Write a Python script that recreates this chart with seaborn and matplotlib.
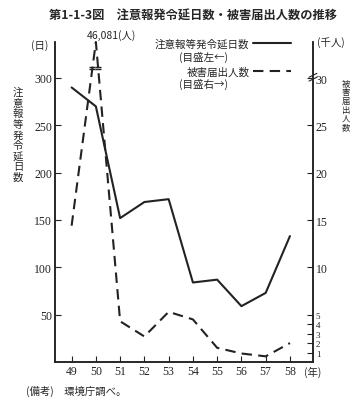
import numpy as np
import matplotlib
matplotlib.use('Agg')
import matplotlib.pyplot as plt
import seaborn as sns

# data
years = [49, 50, 51, 52, 53, 54, 55, 56, 57, 58]
year_labels = ['49', '50', '51', '52', '53', '54', '55', '56', '57', '58']
days = [290, 270, 152, 169, 172, 84, 87, 59, 73, 133]          # 注意報等発令延日数 (日)
victims = [14.4, 46.081, 4.3, 2.7, 5.3, 4.5, 1.5, 0.9, 0.6, 2.0]  # 被害届出人数 (千人)
left_ticks = [50, 100, 150, 200, 250, 300]
right_ticks = [1, 2, 3, 4, 5, 10, 15, 20, 25, 30]

sns.set_style('ticks')
jp = ['Noto Sans CJK JP', 'DejaVu Sans']
plt.rcParams['font.family'] = jp
num_font = 'Liberation Serif'

fig = plt.figure(figsize=(3.61, 4.10), dpi=100)
ax = fig.add_axes([0.152, 0.1146, 0.715, 0.7805])
ax2 = ax.twinx()

sns.lineplot(x=years, y=days, ax=ax, color='#222222', lw=1.5)
sns.lineplot(x=years, y=victims, ax=ax2, color='#222222', lw=1.5,
             linestyle=(0, (5, 3)), clip_on=False)

# right axis broken above 31 (千人)
brk, k = 31.0, 0.186
fwd = lambda y: np.where(y <= brk, y, brk + (y - brk) * k)
inv = lambda y: np.where(y <= brk, y, brk + (y - brk) / k)
ax2.set_yscale('function', functions=(fwd, inv))
ax2.set_ylim(0, max(victims))
ax.set_ylim(0, 338)
ax.set_xlim(48.31, 58.95)

ax.set_xticks(years)
ax.set_xticklabels(year_labels, family=num_font, fontsize=8.5)
ax.set_yticks(left_ticks)
ax.set_yticklabels([str(v) for v in left_ticks], family=num_font, fontsize=8.5)
ax2.set_yticks(right_ticks)
ax2.set_yticklabels([str(v) for v in right_ticks], family=num_font, fontsize=8.5)
for t, v in zip(ax2.get_yticklabels(), right_ticks):
    if v <= 5:
        t.set_fontsize(6.5)
ax2.minorticks_off()

for a in (ax, ax2):
    a.spines['top'].set_visible(False)
    for s in ('left', 'right', 'bottom'):
        a.spines[s].set_linewidth(1.1)
        a.spines[s].set_color('#222222')
    a.tick_params(direction='in', length=4, width=0.8, pad=2, colors='#222222')
ax.set_xlabel('')
ax.set_ylabel('')
ax2.set_ylabel('')

# break marks on right axis and on the peak legs
for dy in (-0.006, 0.006):
    ax2.plot([0.985, 1.015], [0.89 + dy - 0.006, 0.89 + dy + 0.006],
             transform=ax2.transAxes, color='#222222', lw=0.8, clip_on=False)
ycut = brk + 0.5
tcut, tpeak = float(fwd(ycut)), float(fwd(victims[1]))
x_cross = [49 + (tcut - victims[0]) / (tpeak - victims[0]),
           51 - (tcut - victims[2]) / (tpeak - victims[2])]
ax2.plot(x_cross, [ycut, ycut], ls='none', marker='$=$', ms=4,
         color='#222222')

# legend
h1 = ax.get_lines()[0]
h2 = ax2.get_lines()[0]
fig.legend([h1, h2], ['注意報等発令延日数', '被害届出人数'], loc='upper right',
           bbox_to_anchor=(0.805, 0.905), frameon=False, markerfirst=False,
           handlelength=3.6, handletextpad=0.3, labelspacing=1.75,
           borderpad=0, borderaxespad=0, prop={'family': jp, 'size': 7.6})
fig.text(0.565, 1 - 57 / 410, '(目盛左←)', ha='center', va='center', fontsize=7.6)
fig.text(0.565, 1 - 84 / 410, '(目盛右→)', ha='center', va='center', fontsize=7.6)

# titles and labels
fig.text(0.535, 1 - 16 / 410, '第1-1-3図　注意報発令延日数・被害届出人数の推移',
         ha='center', va='center', fontsize=8.8, fontweight='bold')
fig.text(40 / 361, 1 - 46 / 410, '(日)', ha='center', va='center', fontsize=7.5)
fig.text(331 / 361, 1 - 43 / 410, '(千人)', ha='center', va='center', fontsize=7.5)
fig.text(112 / 361, 1 - 36 / 410, '46,081(人)', ha='center', va='center', fontsize=7.5)


def vertical_text(s, x, y0, step, size):
    for i, ch in enumerate(s):
        fig.text(x / 361, 1 - (y0 + i * step) / 410, ch, ha='center',
                 va='center', fontsize=size)


vertical_text('注意報等発令延日数', 18, 93, 10.6, 7.5)
vertical_text('被害届出人数', 346, 84, 8.8, 6)

fig.text(313 / 361, 1 - 372 / 410, '(年)', ha='center', va='center', fontsize=7.5)
fig.text(26 / 361, 1 - 391 / 410, '(備考)　環境庁調べ。', ha='left', va='center',
         fontsize=7.5)

fig.savefig('out.png', dpi=100)
